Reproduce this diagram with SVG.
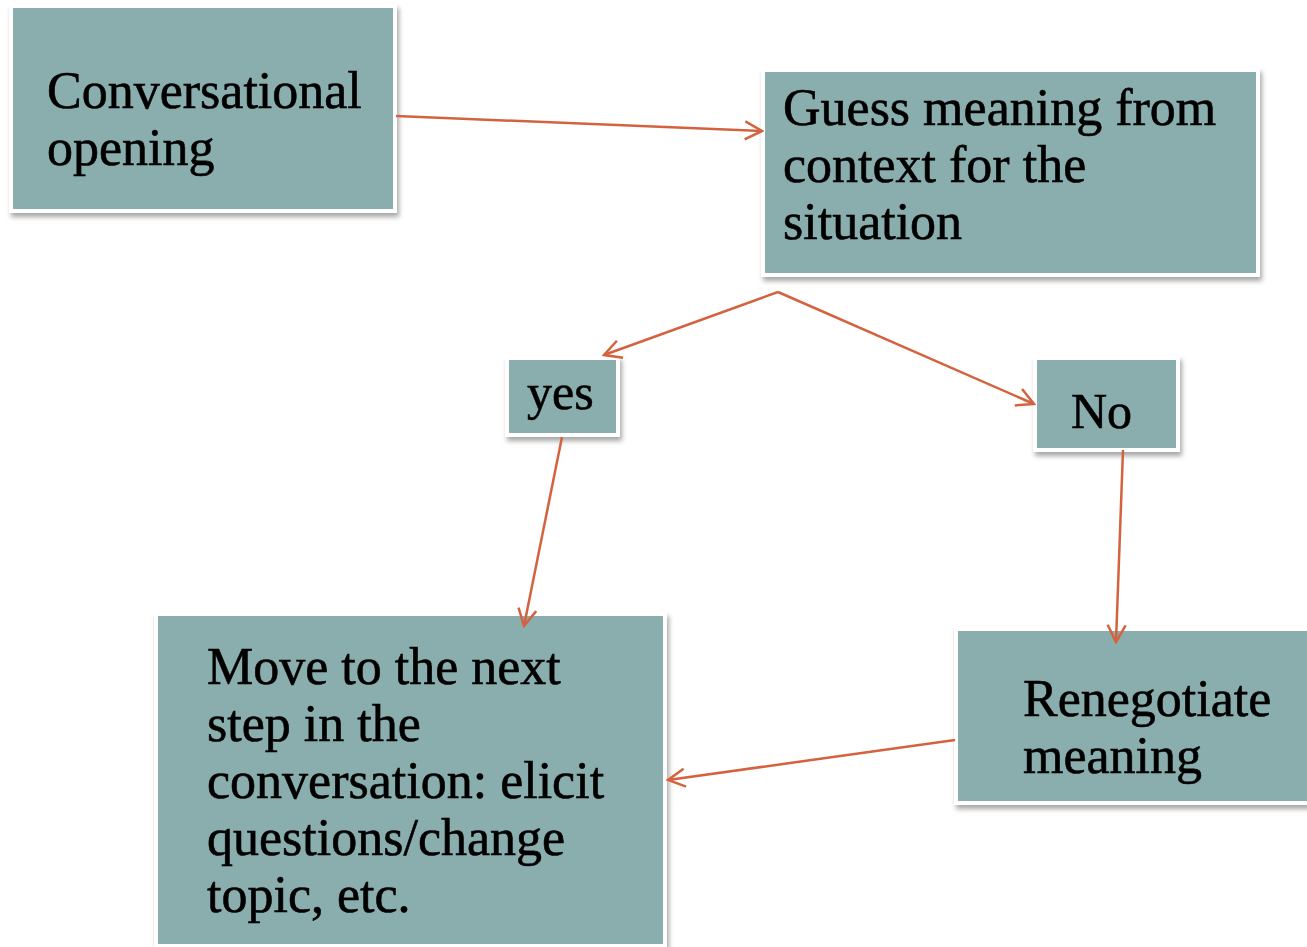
<svg xmlns="http://www.w3.org/2000/svg" width="1307" height="947" viewBox="0 0 1307 947">
<style>
.box{fill:#8aadad;stroke:#ffffff;stroke-width:4;filter:url(#sh)}
.t{font-family:"Liberation Serif","Times New Roman",serif;font-size:52px;fill:#000;stroke:#000;stroke-width:0.6}
.c{fill:none;stroke:#d4623f;stroke-width:2.5;marker-end:url(#ah)}
</style>
<defs>
<filter id="sh" x="-10%" y="-10%" width="125%" height="125%">
<feDropShadow dx="2" dy="4" stdDeviation="2.5" flood-color="#000" flood-opacity="0.35"/>
</filter>
<marker id="ah" viewBox="0 0 22 22" refX="20" refY="11" markerWidth="22" markerHeight="22" markerUnits="userSpaceOnUse" orient="auto">
<path d="M3,2 L20,11 L3,20" fill="none" stroke="#d4623f" stroke-width="2.5"/>
</marker>
</defs>
<rect width="1307" height="947" fill="#ffffff"/>
<g id="n1">
<rect class="box" x="11" y="6" width="384" height="205"/>
<text class="t" x="47" y="108">Conversational</text>
<text class="t" x="47" y="165">opening</text>
</g>
<g id="n2">
<rect class="box" x="763" y="70" width="495" height="205"/>
<text class="t" x="783" y="125">Guess meaning from</text>
<text class="t" x="783" y="182">context for the</text>
<text class="t" x="783" y="239">situation</text>
</g>
<g id="n3">
<rect class="box" x="507" y="358" width="111" height="77"/>
<text class="t" x="527" y="409" style="font-size:50px">yes</text>
</g>
<g id="n4">
<rect class="box" x="1035" y="358" width="143" height="92"/>
<text class="t" x="1071" y="428" style="font-size:50px">No</text>
</g>
<g id="n5">
<rect class="box" x="156" y="614" width="509" height="332"/>
<text class="t" x="207" y="684">Move to the next</text>
<text class="t" x="207" y="741">step in the</text>
<text class="t" x="207" y="798">conversation: elicit</text>
<text class="t" x="207" y="855">questions/change</text>
<text class="t" x="207" y="912">topic, etc.</text>
</g>
<g id="n6">
<rect class="box" x="956" y="629" width="370" height="174"/>
<text class="t" x="1023" y="716">Renegotiate</text>
<text class="t" x="1023" y="773">meaning</text>
</g>
<g id="connectors">
<line class="c" x1="396" y1="116" x2="762" y2="131"/>
<line class="c" x1="778" y1="292" x2="604" y2="355"/>
<line class="c" x1="778" y1="292" x2="1034" y2="404"/>
<line class="c" x1="562" y1="437" x2="524" y2="626"/>
<line class="c" x1="1123" y1="450" x2="1116" y2="642"/>
<line class="c" x1="955" y1="740" x2="668" y2="780"/>
</g>
</svg>
